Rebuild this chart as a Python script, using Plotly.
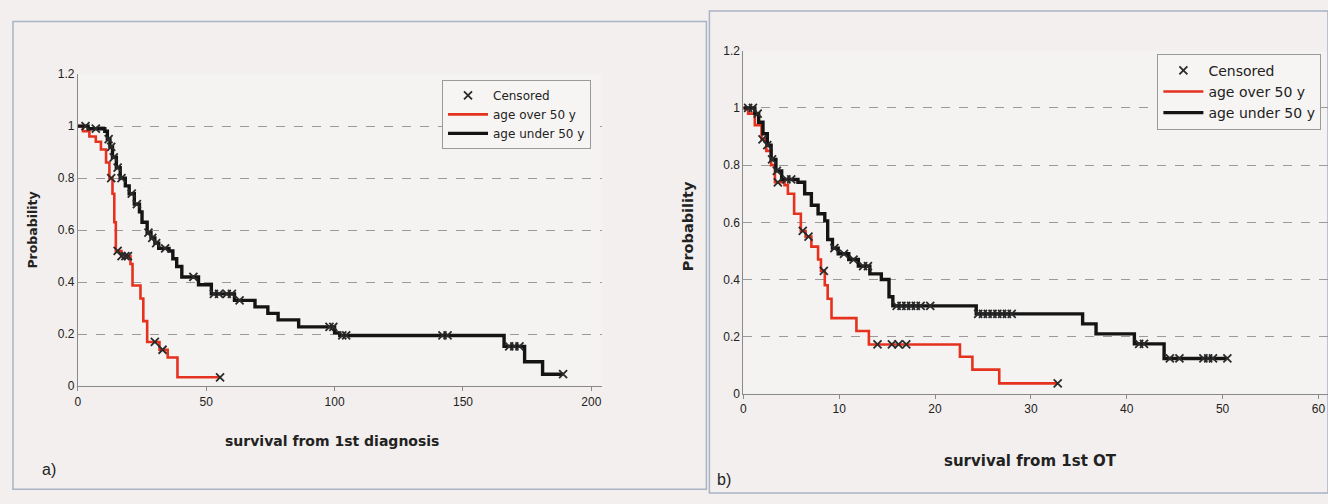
import numpy as np
import plotly.graph_objects as go

# ---------- data ----------
# Panel a: survival from 1st diagnosis
a_under_t = [0, 4, 10.5, 11.5, 12.5, 13.5, 15, 16.5, 18.5, 20, 22, 24, 25, 27, 28.5, 30, 31.5, 35.5, 37, 38.5,
             40.5, 47, 52, 61, 69, 74, 78, 86, 100, 102, 166, 174, 181, 189]
a_under_s = [1.0, 0.99, 0.98, 0.95, 0.92, 0.88, 0.84, 0.80, 0.77, 0.74, 0.70, 0.67, 0.63, 0.59, 0.57, 0.55, 0.53,
             0.52, 0.49, 0.46, 0.42, 0.39, 0.355, 0.33, 0.305, 0.28, 0.255, 0.228, 0.205, 0.195, 0.153, 0.094,
             0.046, 0.046]
a_under_cens = [3, 7, 12, 13, 14, 15.5, 17, 21, 23, 27.5, 29, 30.5, 34, 45, 53, 55, 58, 60, 63, 98, 99.5, 103,
                104.5, 142, 144, 168, 170, 172, 189]

a_over_t = [0, 2, 4.5, 7, 9, 11, 12.3, 13.5, 14.2, 14.8, 17, 20.5, 21.3, 24.4, 25.5, 27, 31.8, 35, 38.8, 55.4]
a_over_s = [1.0, 0.98, 0.96, 0.94, 0.91, 0.86, 0.80, 0.74, 0.63, 0.52, 0.50, 0.47, 0.387, 0.337, 0.25, 0.17,
            0.14, 0.11, 0.034, 0.034]
a_over_cens = [13, 15.5, 17, 18.5, 19.5, 30, 33, 55.4]

# Panel b: survival from 1st OT
b_under_t = [0, 1.2, 1.6, 2.05, 2.5, 2.9, 3.4, 4.0, 5.7, 6.4, 7.1, 7.8, 8.5, 8.8, 9.3, 9.9, 11, 12, 13.2, 14.4,
             15.2, 15.6, 24.3, 35.4, 36.8, 40.8, 43.9, 50.5]
b_under_s = [1.0, 0.98, 0.95, 0.91, 0.87, 0.82, 0.78, 0.75, 0.74, 0.70, 0.66, 0.63, 0.605, 0.54, 0.51, 0.49, 0.47,
             0.447, 0.42, 0.40, 0.34, 0.308, 0.28, 0.245, 0.21, 0.175, 0.124, 0.124]
b_under_cens = [0.5, 1, 1.5, 2.5, 3, 3.5, 4.5, 5, 9.5, 10.5, 11.5, 12.5, 13, 16, 16.5, 17, 17.5, 18, 18.5, 19.5,
                24.5, 25, 25.5, 26, 26.5, 27, 27.5, 28, 41.3, 41.8, 44.5, 45.5, 48, 48.5, 49, 50.5]

b_over_t = [0, 0.5, 1.2, 1.9, 2.4, 2.9, 3.3, 4.3, 4.65, 5.3, 6.0, 6.5, 7.1, 7.8, 8.1, 8.5, 8.8, 9.2, 11.8, 13.1,
            22.6, 23.9, 26.7, 32.8]
b_over_s = [1.0, 0.98, 0.94, 0.89, 0.85, 0.80, 0.74, 0.73, 0.70, 0.63, 0.57, 0.55, 0.515, 0.47, 0.43, 0.38, 0.333,
            0.265, 0.22, 0.173, 0.13, 0.085, 0.037, 0.037]
b_over_cens = [2, 3.6, 6.2, 6.8, 8.4, 14, 15.5, 16.2, 17, 32.8]

y_ticks = [0, 0.2, 0.4, 0.6, 0.8, 1, 1.2]
a_x_ticks = [0, 50, 100, 150, 200]
b_x_ticks = [0, 10, 20, 30, 40, 50, 60]

legend_names = ["Censored", "age over 50 y", "age under 50 y"]

RED = "#e5321f"
BLACK = "#141414"
FONT = "Liberation Sans, Arial, sans-serif"
WIDE = "DejaVu Sans, sans-serif"
W, H = 1328, 504


def km_at(ts, ss, x):
    ts = np.asarray(ts)
    ss = np.asarray(ss)
    idx = np.searchsorted(ts, np.asarray(x), side="right") - 1
    return ss[np.clip(idx, 0, len(ss) - 1)]


fig = go.Figure()
CMARK = dict(symbol="x-thin", size=8, line=dict(width=1.8, color="#2a2a2a"))


def add_panel(xa, ya, leg, over_t, over_s, over_c, under_t, under_s, under_c):
    fig.add_trace(go.Scatter(x=[None], y=[None], mode="markers", name=legend_names[0],
                             xaxis=xa, yaxis=ya, legend=leg, marker=CMARK))
    fig.add_trace(go.Scatter(x=over_t, y=over_s, mode="lines", line_shape="hv", name=legend_names[1],
                             xaxis=xa, yaxis=ya, legend=leg, line=dict(color=RED, width=2.6)))
    fig.add_trace(go.Scatter(x=under_t, y=under_s, mode="lines", line_shape="hv", name=legend_names[2],
                             xaxis=xa, yaxis=ya, legend=leg, line=dict(color=BLACK, width=3.4)))
    fig.add_trace(go.Scatter(x=over_c, y=km_at(over_t, over_s, over_c), mode="markers",
                             xaxis=xa, yaxis=ya, legend=leg, showlegend=False, marker=CMARK,
                             hoverinfo="skip"))
    fig.add_trace(go.Scatter(x=under_c, y=km_at(under_t, under_s, under_c), mode="markers",
                             xaxis=xa, yaxis=ya, legend=leg, showlegend=False, marker=CMARK,
                             hoverinfo="skip"))


add_panel("x", "y", "legend", a_over_t, a_over_s, a_over_cens, a_under_t, a_under_s, a_under_cens)
add_panel("x2", "y2", "legend2", b_over_t, b_over_s, b_over_cens, b_under_t, b_under_s, b_under_cens)

axis_common = dict(showline=True, linecolor="#8a8a8a", linewidth=1, ticks="outside",
                   tickcolor="#8a8a8a", tickfont=dict(family=FONT, size=12, color="#222"), zeroline=False,
                   mirror=False, fixedrange=True)
grid_common = dict(showgrid=True, gridcolor="#9a9a9a", gridwidth=1, griddash="dash")

fig.update_layout(
    width=W, height=H,
    margin=dict(l=0, r=0, t=0, b=0),
    paper_bgcolor="#f2efee",
    plot_bgcolor="#f5f3f2",
    font=dict(family=FONT, color="#222"),
    xaxis=dict(domain=[75 / W, 600 / W], range=[0, 204], tickvals=a_x_ticks, showgrid=False,
               anchor="y", ticklen=4, **axis_common),
    yaxis=dict(domain=[1 - 390 / H, 1 - 69 / H], range=[0, 1.2], tickvals=y_ticks, anchor="x",
               ticklen=0, **axis_common, **grid_common),
    xaxis2=dict(domain=[742 / W, 1.0], range=[0, 61], tickvals=b_x_ticks, showgrid=False,
                anchor="y2", ticklen=4, **axis_common),
    yaxis2=dict(domain=[1 - 398 / H, 1 - 45 / H], range=[0, 1.2], tickvals=y_ticks, anchor="x2",
                ticklen=0, **axis_common, **grid_common),
    legend=dict(x=440 / W, y=1 - 75 / H, xanchor="left", yanchor="top", bgcolor="#f7f5f4",
                bordercolor="#9a9a9a", borderwidth=1, font=dict(family=WIDE, size=12, color="#222"),
                tracegroupgap=0, itemwidth=40),
    legend2=dict(x=1157 / W, y=1 - 48 / H, xanchor="left", yanchor="top", bgcolor="#f7f5f4",
                 bordercolor="#9a9a9a", borderwidth=1, font=dict(family=WIDE, size=14, color="#222"),
                 tracegroupgap=0, itemwidth=40),
    showlegend=True,
)

# panel frames
fig.add_shape(type="rect", xref="paper", yref="paper", x0=10 / W, x1=705 / W, y0=1 - 496 / H, y1=1 - 15 / H,
              line=dict(color="#a9b3c4", width=1.5), fillcolor="rgba(0,0,0,0)", layer="below")
fig.add_shape(type="rect", xref="paper", yref="paper", x0=708 / W, x1=1.0, y0=1 - 500 / H, y1=1 - 4 / H,
              line=dict(color="#a9b3c4", width=1.5), fillcolor="rgba(0,0,0,0)", layer="below")

ann = [
    dict(x=30 / W, y=1 - 229 / H, text="<b>Probability</b>", textangle=-90, size=12.5, fam=WIDE),
    dict(x=330 / W, y=1 - 446 / H, text="<b>survival from 1st diagnosis</b>", textangle=0, size=14, fam=WIDE),
    dict(x=46 / W, y=1 - 476 / H, text="a)", textangle=0, size=16, fam=FONT),
    dict(x=686 / W, y=1 - 225 / H, text="<b>Probability</b>", textangle=-90, size=14.5, fam=WIDE),
    dict(x=1030 / W, y=1 - 467 / H, text="<b>survival from 1st OT</b>", textangle=0, size=15, fam=WIDE),
    dict(x=723 / W, y=1 - 486 / H, text="b)", textangle=0, size=16, fam=FONT),
]
for a in ann:
    fig.add_annotation(x=a["x"], y=a["y"], xref="paper", yref="paper", text=a["text"], showarrow=False,
                       textangle=a["textangle"], font=dict(family=a["fam"], size=a["size"], color="#222"),
                       xanchor="center", yanchor="middle")

fig.write_html("out.html")
